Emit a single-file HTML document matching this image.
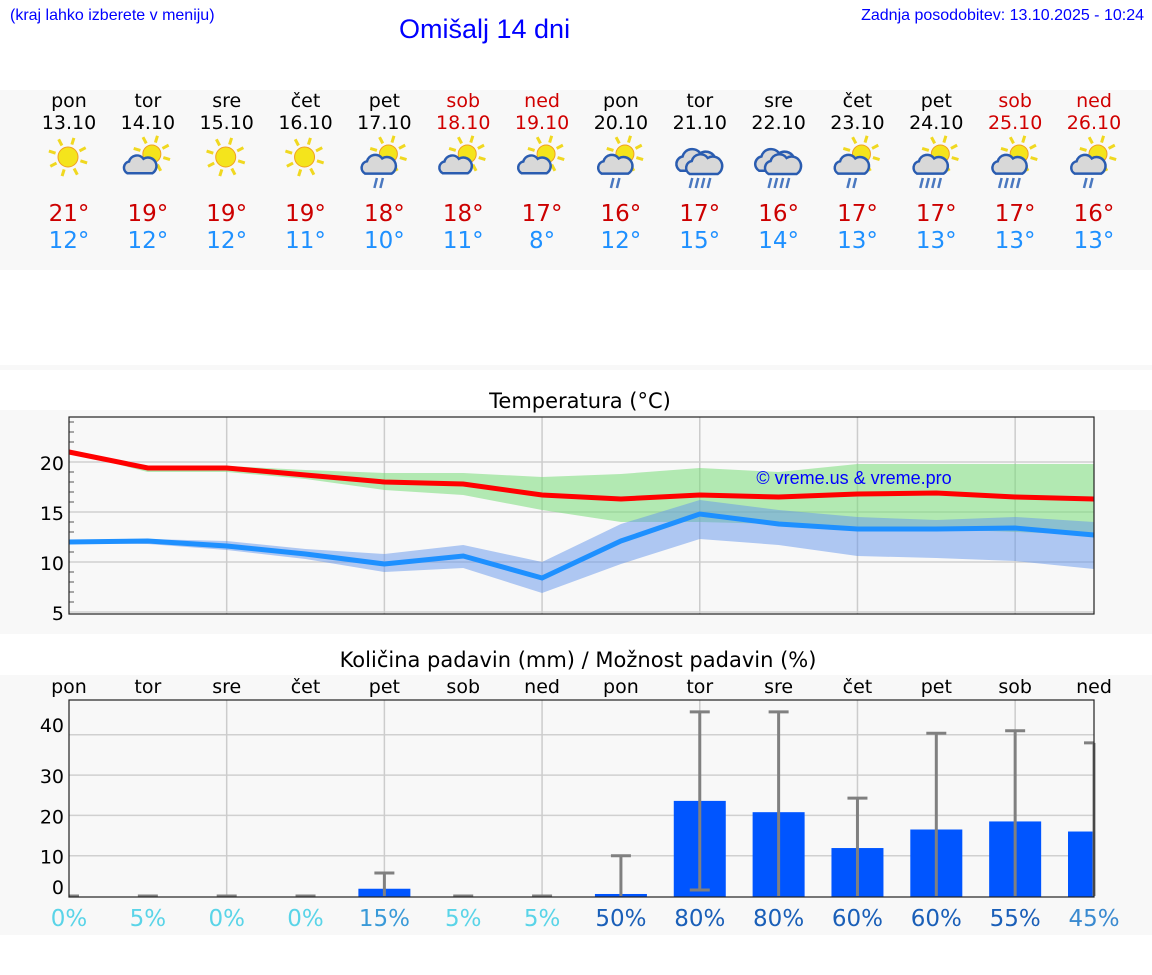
<!DOCTYPE html>
<html><head><meta charset="utf-8"><style>
body{margin:0;width:1152px;height:975px;background:#fff;position:relative;overflow:hidden;font-family:"DejaVu Sans","Liberation Sans",sans-serif}
.t{position:absolute;white-space:nowrap}
</style></head><body>
<div class="t" style="left:10px;top:7px;font:16px 'Liberation Sans',sans-serif;color:#0000ff">(kraj lahko izberete v meniju)</div>
<div class="t" style="left:399px;top:14px;font:27px 'Liberation Sans',sans-serif;color:#0000ff">Omišalj 14 dni</div>
<div class="t" style="right:8px;top:7px;font:16px 'Liberation Sans',sans-serif;color:#0000ff">Zadnja posodobitev: 13.10.2025 - 10:24</div>
<svg id="s" width="1152" height="975" style="position:absolute;left:0;top:0"></svg>
<script>
const days=["pon","tor","sre","čet","pet","sob","ned","pon","tor","sre","čet","pet","sob","ned"];
const dates=["13.10","14.10","15.10","16.10","17.10","18.10","19.10","20.10","21.10","22.10","23.10","24.10","25.10","26.10"];
const icons=["sun","suncloud","sun","sun","sunrain","suncloud","suncloud","sunrain","rain","rain","sunrain","sunrain","sunrain","sunrain"];
const hiLabels=[21,19,19,19,18,18,17,16,17,16,17,17,17,16];
const loLabels=[12,12,12,11,10,11,8,12,15,14,13,13,13,13];
const tMax=[21,19.4,19.4,18.7,18,17.8,16.7,16.3,16.7,16.5,16.8,16.9,16.5,16.3];
const tMaxHi=[21,19.6,19.6,19.2,18.9,18.9,18.5,18.8,19.4,19,19.8,19.8,19.8,19.8];
const tMaxLo=[21,19,19,18.3,17.2,16.7,15.2,14,14,13.8,13.5,13.3,13,12.7];
const tMin=[12,12.1,11.6,10.8,9.8,10.6,8.4,12.1,14.8,13.8,13.3,13.3,13.4,12.7];
const tMinHi=[12.1,12.3,12.1,11.3,10.8,11.7,10,13.8,16.2,15.2,14.5,14.2,14.5,14];
const tMinLo=[11.9,11.8,11.2,10.3,9,9.4,6.9,9.8,12.3,11.7,10.6,10.4,10.1,9.3];
const tTicks=[5,10,15,20];
const rain=[0,0,0,0,1.8,0,0,0.5,23.6,20.8,11.9,16.5,18.5,16];
const rainTop=[0,0,0,0,5.7,0,0,10,45.7,45.7,24.3,40.4,41,38];
const rainBot=[0,0,0,0,0,0,0,0,1.5,0,0,0,0,0];
const pct=[0,5,0,0,15,5,5,50,80,80,60,60,55,45];
const rTicks=[10,20,30,40];
const rTickLabels=["10","20","30","40"];
const S=document.getElementById('s'),NS='http://www.w3.org/2000/svg';
function el(tag,a,txt){const e=document.createElementNS(NS,tag);for(const k in a)e.setAttribute(k,a[k]);if(txt!=null)e.textContent=txt;S.appendChild(e);return e;}
const X=i=>69+i*1025/13;
const tY=v=>662-10*v;
const rY=v=>896-4.03*v;
let b;
b=el('rect',{x:0,y:90,width:1152,height:180,fill:'#f8f8f8'});
b=el('rect',{x:0,y:365,width:1152,height:5,fill:'#f8f8f8'});
b=el('rect',{x:0,y:410,width:1152,height:224,fill:'#f8f8f8'});
b=el('rect',{x:0,y:675,width:1152,height:260,fill:'#f8f8f8'});
function sun(g,cx,cy,r){for(let k=0;k<8;k++){const a=k*Math.PI/4+0.3;const l=document.createElementNS(NS,'line');l.setAttribute('x1',cx+Math.cos(a)*(r+3));l.setAttribute('y1',cy+Math.sin(a)*(r+3));l.setAttribute('x2',cx+Math.cos(a)*(r+10));l.setAttribute('y2',cy+Math.sin(a)*(r+10));l.setAttribute('stroke','#f0d820');l.setAttribute('stroke-width','3');g.appendChild(l);}
 const c=document.createElementNS(NS,'circle');c.setAttribute('cx',cx);c.setAttribute('cy',cy);c.setAttribute('r',r);c.setAttribute('fill','#f4e41c');c.setAttribute('stroke','#f0a020');g.appendChild(c);}
function cloud(g,cx,cy,s){const p=document.createElementNS(NS,'path');p.setAttribute('d',`M${cx-14*s} ${cy+8*s} a${7*s} ${7*s} 0 0 1 ${2*s} ${-13*s} a${9*s} ${9*s} 0 0 1 ${16*s} ${-3*s} a${7*s} ${7*s} 0 0 1 ${10*s} ${16*s} Z`);p.setAttribute('fill','#d8d8d8');p.setAttribute('stroke','#2a5cb0');p.setAttribute('stroke-width','2.5');g.appendChild(p);}
function drops(g,cx,cy,n){for(let k=0;k<n;k++){const l=document.createElementNS(NS,'line');const x=cx-(n-1)*3+k*6;l.setAttribute('x1',x+1.5);l.setAttribute('y1',cy);l.setAttribute('x2',x-1);l.setAttribute('y2',cy+10);l.setAttribute('stroke','#4a78c0');l.setAttribute('stroke-width','2.5');g.appendChild(l);}}
for(let i=0;i<14;i++){
 const x=X(i),we=(i==5||i==6||i==12||i==13);
 let t=el('text',{x:x,y:107,'text-anchor':'middle','font-size':19,fill:we?'#d00000':'#000'},days[i]);
 t=el('text',{x:x,y:129,'text-anchor':'middle','font-size':19,fill:we?'#d00000':'#000'},dates[i]);
 const g=el('g',{});
 const ic=icons[i];
 if(ic=='sun')sun(g,x-1,157,10);
 if(ic=='suncloud'){sun(g,x+4,154,9);cloud(g,x-8,166,0.9);}
 if(ic=='sunrain'){sun(g,x+4,154,9);cloud(g,x-6,166,0.95);drops(g,x-6,178,i==11||i==12?4:2);}
 if(ic=='rain'){cloud(g,x-4,162,1.1);cloud(g,x+4,166,1.0);drops(g,x,178,4);}
 t=el('text',{x:x,y:221,'text-anchor':'middle','font-size':23,fill:'#cc0000'},hiLabels[i]+'°');
 t=el('text',{x:x,y:248,'text-anchor':'middle','font-size':23,fill:'#1e90ff'},loLabels[i]+'°');
}
let t=el('text',{x:580,y:408,'text-anchor':'middle','font-size':21,fill:'#000'},'Temperatura (°C)');
el('rect',{x:69,y:417,width:1025,height:197,fill:'#f8f8f8'});
for(const v of tTicks){el('line',{x1:69,x2:1094,y1:tY(v),y2:tY(v),stroke:'#d0d0d0','stroke-width':1.5});
 t=el('text',{x:64,y:tY(v)+8,'text-anchor':'end','font-size':19,fill:'#000'},v);}
for(let v=6;v<=24;v++){if(v%5)el('line',{x1:69,x2:74,y1:tY(v),y2:tY(v),stroke:'#555'});}
for(let i=2;i<14;i+=2)el('line',{x1:X(i),x2:X(i),y1:417,y2:614,stroke:'#ccc','stroke-width':1.5});
function band(hi,lo,fill,name){let d='M';for(let i=0;i<14;i++)d+=X(i)+' '+tY(hi[i])+' L';for(let i=13;i>=0;i--)d+=X(i)+' '+tY(lo[i])+(i?' L':' Z');const p=el('path',{d:d,fill:fill});}
function line(v,col,name){const p=el('polyline',{points:v.map((y,i)=>X(i)+','+tY(y)).join(' '),fill:'none',stroke:col,'stroke-width':5});}
band(tMaxHi,tMaxLo,'rgba(120,220,120,0.55)','max-temp-range');
band(tMinHi,tMinLo,'rgba(100,150,235,0.5)','min-temp-range');
line(tMax,'#ff0000','max-temp-line');line(tMin,'#1e90ff','min-temp-line');
t=el('text',{x:854,y:484,'text-anchor':'middle','font-size':18,fill:'#0000ff','font-family':'Liberation Sans'},'© vreme.us & vreme.pro');
el('rect',{x:69,y:417,width:1025,height:197,fill:'none',stroke:'#222','stroke-width':1.2});
t=el('text',{x:578,y:667,'text-anchor':'middle','font-size':21,fill:'#000'},'Količina padavin (mm) / Možnost padavin (%)');
for(let i=0;i<14;i++){t=el('text',{x:X(i),y:693,'text-anchor':'middle','font-size':19,fill:'#000'},days[i]);}
rTicks.forEach((v,k)=>{el('line',{x1:69,x2:1094,y1:rY(v),y2:rY(v),stroke:'#d0d0d0','stroke-width':1.5});
 const ly=v===40?rY(v)-11:rY(v);
 t=el('text',{x:64,y:ly+8,'text-anchor':'end','font-size':19,fill:'#000'},rTickLabels[k]);});
t=el('text',{x:64,y:894,'text-anchor':'end','font-size':19,fill:'#000'},'0');
for(let i=2;i<14;i+=2)el('line',{x1:X(i),x2:X(i),y1:700,y2:897,stroke:'#ccc','stroke-width':1.5});
const pc=p=>p>=50?'#1a5fb8':p>=40?'#3a8ad0':p>=10?'#3a9ad8':'#5ad4e8';
for(let i=0;i<14;i++){
 const x=X(i);
 if(rain[i]>0){const x0=Math.max(69,x-26),x1=Math.min(1094,x+26);const r=el('rect',{x:x0,y:rY(rain[i]),width:x1-x0,height:897-rY(rain[i]),fill:'#0055ff'});}
 const yt=Math.min(rY(rainTop[i]),896),yb=Math.min(rY(rainBot[i]),897);
 let l=el('line',{x1:x,x2:x,y1:yt,y2:yb,stroke:'#808080','stroke-width':3});
 el('line',{x1:Math.max(69,x-10),x2:Math.min(1094,x+10),y1:yt,y2:yt,stroke:'#808080','stroke-width':3});
 if(rainBot[i]>0)el('line',{x1:x-10,x2:x+10,y1:yb,y2:yb,stroke:'#808080','stroke-width':3});
 t=el('text',{x:x,y:926,'text-anchor':'middle','font-size':23,fill:pc(pct[i])},pct[i]+'%');
}
el('rect',{x:69,y:700,width:1025,height:197,fill:'none',stroke:'#222','stroke-width':1.2});
</script>
</body></html>
